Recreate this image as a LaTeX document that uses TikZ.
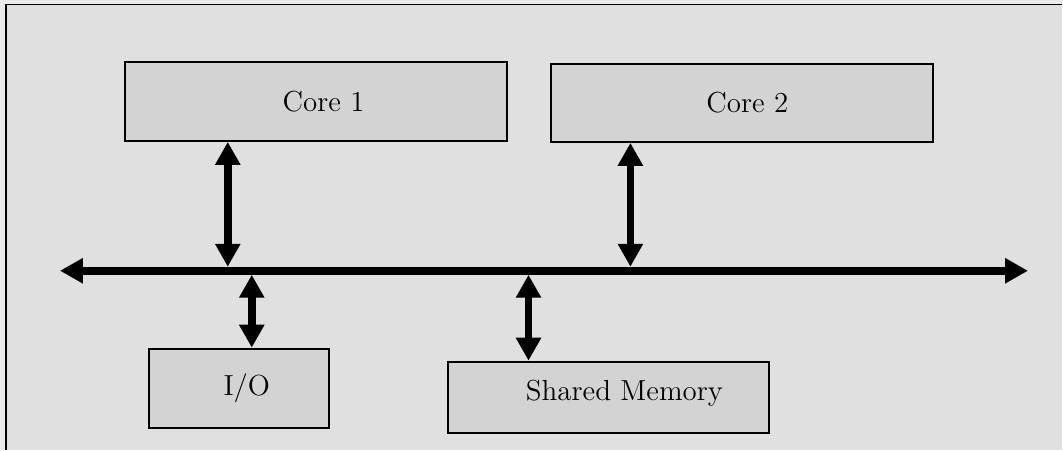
\documentclass[tikz,border=0pt]{standalone}
\usetikzlibrary{arrows.meta}
\definecolor{bg}{HTML}{E0E0E0}
\definecolor{boxfill}{HTML}{D3D3D3}
\definecolor{outerbg}{HTML}{EAEAEA}
\begin{document}
\begin{tikzpicture}[x=0.5pt,y=-0.5pt,
  box/.style={draw=black, line width=1pt, fill=boxfill, inner sep=0pt},
  lbl/.style={font=\fontsize{14.5}{17}\selectfont},
  bus/.style={line width=3.75pt, {Triangle[length=11.5pt,width=12pt]}-{Triangle[length=11.5pt,width=12pt]}}]
\fill[outerbg] (0,0) rectangle (1063,450);
\fill[bg] (6.5,4.5) rectangle (1063,450);
\draw[line width=1pt] (6.5,450) -- (6.5,4.5) -- (1063,4.5);
\useasboundingbox (0,0) rectangle (1063,450);

\node[box, minimum width=191pt, minimum height=39.5pt, label={[lbl,xshift=4pt]center:Core 1}] (core1) at (316,101.5) {};
\node[box, minimum width=191pt, minimum height=39pt, label={[lbl,xshift=2.5pt]center:Core 2}] (core2) at (743,103) {};
\node[box, minimum width=90pt, minimum height=39.5pt, label={[lbl,xshift=4pt]center:I/O}] (io) at (239,388.5) {};
\node[box, minimum width=161pt, minimum height=35.5pt, label={[lbl,xshift=8pt,yshift=2pt]center:Shared Memory}] (mem) at (609,397.5) {};

\coordinate (busL) at (60,271);
\coordinate (busR) at (1029,271);
\coordinate (c1bus) at (228,267);
\coordinate (c2bus) at (631,267);
\coordinate (iobus) at (252,275);
\coordinate (membus) at (529,275);

\draw[bus] (busL) -- (busR);
\draw[bus] (core1.south -| c1bus) -- (c1bus);
\draw[bus] (core2.south -| c2bus) -- (c2bus);
\draw[bus] (iobus) -- (io.north -| iobus);
\draw[bus] (membus) -- (mem.north -| membus);
\end{tikzpicture}
\end{document}
